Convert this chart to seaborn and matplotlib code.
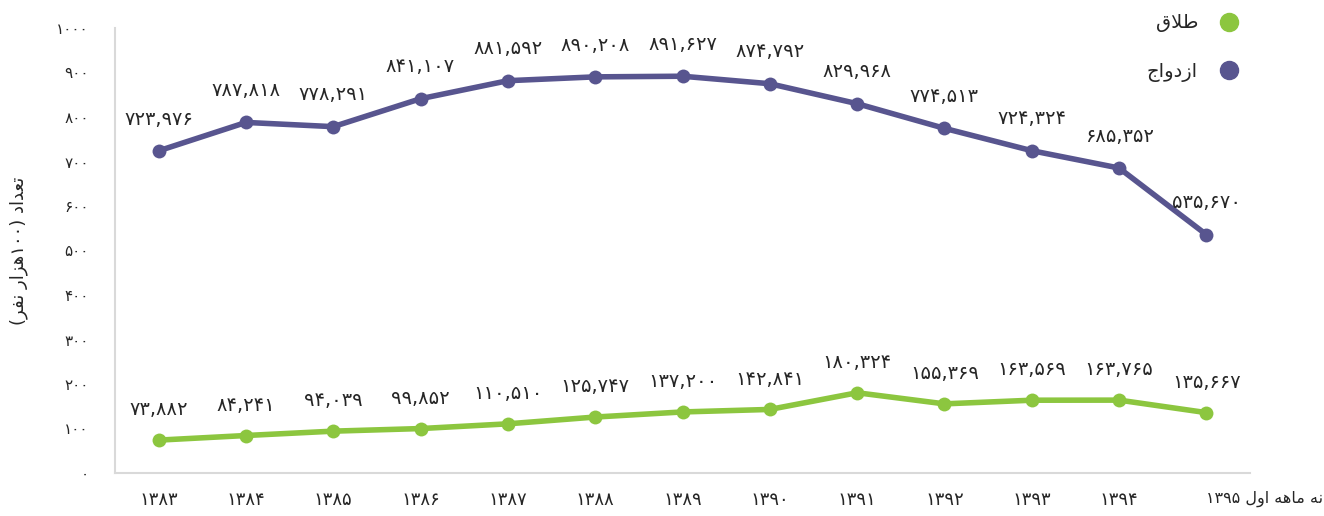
import pandas as pd
import seaborn as sns
import matplotlib.pyplot as plt
from matplotlib.lines import Line2D
from matplotlib.transforms import ScaledTranslation

# Arabic presentation forms: isolated, final, initial, medial
FORMS = {
    'ا': ('\uFE8D', '\uFE8E', None, None),
    'ت': ('\uFE95', '\uFE96', '\uFE97', '\uFE98'),
    'ج': ('\uFE9D', '\uFE9E', '\uFE9F', '\uFEA0'),
    'د': ('\uFEA9', '\uFEAA', None, None),
    'ر': ('\uFEAD', '\uFEAE', None, None),
    'ز': ('\uFEAF', '\uFEB0', None, None),
    'ط': ('\uFEC1', '\uFEC2', '\uFEC3', '\uFEC4'),
    'ع': ('\uFEC9', '\uFECA', '\uFECB', '\uFECC'),
    'ف': ('\uFED1', '\uFED2', '\uFED3', '\uFED4'),
    'ق': ('\uFED5', '\uFED6', '\uFED7', '\uFED8'),
    'ل': ('\uFEDD', '\uFEDE', '\uFEDF', '\uFEE0'),
    'م': ('\uFEE1', '\uFEE2', '\uFEE3', '\uFEE4'),
    'ن': ('\uFEE5', '\uFEE6', '\uFEE7', '\uFEE8'),
    'ه': ('\uFEE9', '\uFEEA', '\uFEEB', '\uFEEC'),
    'و': ('\uFEED', '\uFEEE', None, None),
}


def shape(word):
    # join letters and return them in visual (left to right) order
    out = []
    i = 0
    prev_joins = False
    while i < len(word):
        c = word[i]
        if c == 'ل' and i + 1 < len(word) and word[i + 1] == 'ا':
            out.append('\uFEFC' if prev_joins else '\uFEFB')
            prev_joins = False
            i += 2
            continue
        f = FORMS[c]
        dual = f[2] is not None
        next_joins = dual and i + 1 < len(word) and word[i + 1] in FORMS
        if prev_joins and next_joins:
            out.append(f[3])
        elif prev_joins:
            out.append(f[1])
        elif next_joins:
            out.append(f[2])
        else:
            out.append(f[0])
        prev_joins = next_joins
        i += 1
    return ''.join(reversed(out))


def fa(n):
    return str(n).translate(str.maketrans('0123456789', '۰۱۲۳۴۵۶۷۸۹'))


years = ['۱۳۸۳', '۱۳۸۴', '۱۳۸۵', '۱۳۸۶', '۱۳۸۷', '۱۳۸۸', '۱۳۸۹',
         '۱۳۹۰', '۱۳۹۱', '۱۳۹۲', '۱۳۹۳', '۱۳۹۴', '۱۳۹۵']
marriage = [723976, 787818, 778291, 841107, 881592, 890208, 891627,
            874792, 829968, 774513, 724324, 685352, 535670]
divorce = [73882, 84241, 94039, 99852, 110510, 125747, 137200,
           142841, 180324, 155369, 163569, 163765, 135667]

purple = '#58558f'
green = '#8cc63f'

df = pd.DataFrame({
    'pos': list(range(len(years))) * 2,
    'value': [v / 1000 for v in marriage] + [v / 1000 for v in divorce],
    'series': ['marriage'] * len(years) + ['divorce'] * len(years),
})

sns.set_style('white')
plt.rcParams['font.family'] = ['DejaVu Sans']

fig = plt.figure(figsize=(13.24, 5.16), dpi=100)
ax = fig.add_axes([115 / 1324, 43 / 516, 1135 / 1324, 445 / 516])

sns.lineplot(data=df, x='pos', y='value', hue='series',
             palette={'marriage': purple, 'divorce': green},
             marker='o', markersize=10, markeredgewidth=0, linewidth=4,
             legend=False, ax=ax)

for i in range(len(years)):
    ax.annotate(fa(f'{marriage[i]:,}'), (i, marriage[i] / 1000), xytext=(0, 16),
                textcoords='offset points', ha='center', va='bottom', fontsize=14)
    ax.annotate(fa(f'{divorce[i]:,}'), (i, divorce[i] / 1000), xytext=(0, 15),
                textcoords='offset points', ha='center', va='bottom', fontsize=14)

ax.set_xlim(-0.5, len(years) - 0.5)
ax.set_ylim(0, 1000)
ax.set_yticks(range(0, 1001, 100))
ax.set_yticklabels([fa(v) for v in range(0, 1001, 100)], fontsize=11)
ax.set_xticks(range(len(years)))
xlabels = years[:-1] + [years[-1] + ' ' + shape('اول') + ' ' + shape('ماهه') + ' ' + shape('نه')]
ax.set_xticklabels(xlabels, fontsize=13)
last = ax.get_xticklabels()[-1]
last.set_fontsize(11.5)
last.set_horizontalalignment('left')
last.set_transform(last.get_transform() + ScaledTranslation(-10 / 100, 0, fig.dpi_scale_trans))

ax.tick_params(axis='x', direction='in', length=7, color='#d9d9d9', pad=13)
ax.tick_params(axis='y', length=0, pad=19)
ax.set_xlabel('')
ax.set_ylabel('(' + shape('نفر') + ' ' + shape('هزار') + '۱۰۰) ' + shape('تعداد'),
              fontsize=13, labelpad=20)

for s in ['top', 'right']:
    ax.spines[s].set_visible(False)
for s in ['left', 'bottom']:
    ax.spines[s].set_color('#d9d9d9')
    ax.spines[s].set_linewidth(1.5)

handles = [Line2D([], [], linestyle='', marker='o', markersize=13, color=green),
           Line2D([], [], linestyle='', marker='o', markersize=13, color=purple)]
fig.legend(handles, [shape('طلاق'), shape('ازدواج')], loc='upper right',
           bbox_to_anchor=(1266 / 1324, 1.008), markerfirst=False, frameon=False,
           fontsize=14, labelspacing=1.5, handletextpad=0.6)

fig.savefig('out.png', dpi=100)
